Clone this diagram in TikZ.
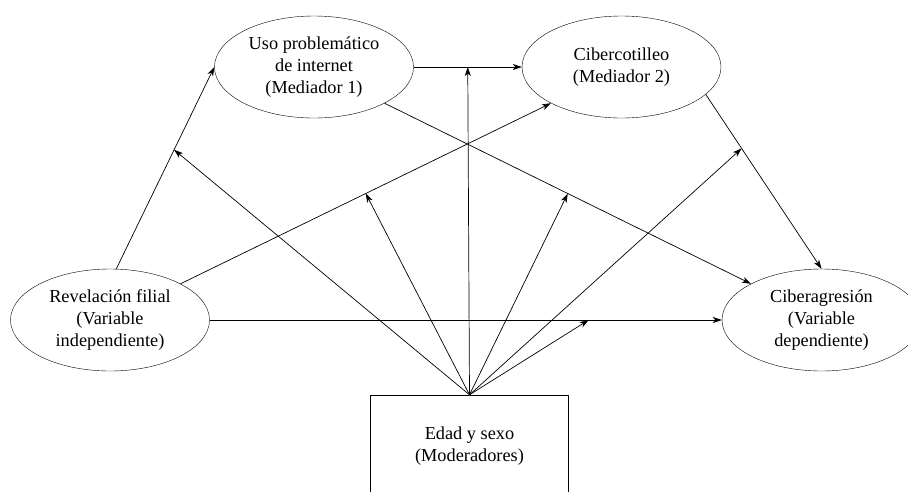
\documentclass[tikz,border=0pt]{standalone}
\usepackage{fontspec}
\setmainfont{Liberation Serif}
\usetikzlibrary{shapes.geometric, arrows.meta, positioning, calc}

\begin{document}
\begin{tikzpicture}[x=1pt, y=-1pt,
    var/.style={draw, ellipse, inner sep=0pt, minimum width=199pt,
                minimum height=102pt, align=center,
                font=\fontsize{18.3}{21.7}\selectfont},
    modbox/.style={draw, rectangle, inner sep=0pt, minimum width=198pt,
                   minimum height=102pt, align=center,
                   font=\fontsize{18.3}{21.7}\selectfont},
    flecha/.style={-{Stealth[length=9pt, width=6pt, inset=2.5pt]}, line width=0.7pt}
]
\useasboundingbox (0,0) rectangle (908,491);

\node[var]    (uso) at (314, 67)   {Uso problemático\\de internet\\(Mediador 1)};
\node[var]    (cot) at (621.5, 67) {Cibercotilleo\\(Mediador 2)};
\node[var]    (rev) at (110, 320)  {Revelación filial\\(Variable\\independiente)};
\node[var]    (agr) at (821.5, 320) {Ciberagresión\\(Variable\\dependiente)};
\node[modbox] (mod) at (469.5, 446) {Edad y sexo\\(Moderadores)};

% efectos directos e indirectos
\draw[flecha] (rev.83) -- coordinate[pos=0.59] (m1) (uso.west);
\draw[flecha] (rev.north east) -- coordinate[pos=0.5] (m2) (cot.south west);
\draw[flecha] (uso.east) -- coordinate[pos=0.5] (m3) (cot.west);
\draw[flecha] (uso.south east) -- coordinate[pos=0.5] (m4) (agr.north west);
\draw[flecha] (cot.-18) -- coordinate[pos=0.31] (m5) (agr.north);
\draw[flecha] (rev.east) -- coordinate[pos=0.74] (m6) (agr.west);

% moderacion
\foreach \m in {m1, m2, m3, m4, m5, m6}
    \draw[flecha] (mod.north) -- (\m);
\end{tikzpicture}
\end{document}
